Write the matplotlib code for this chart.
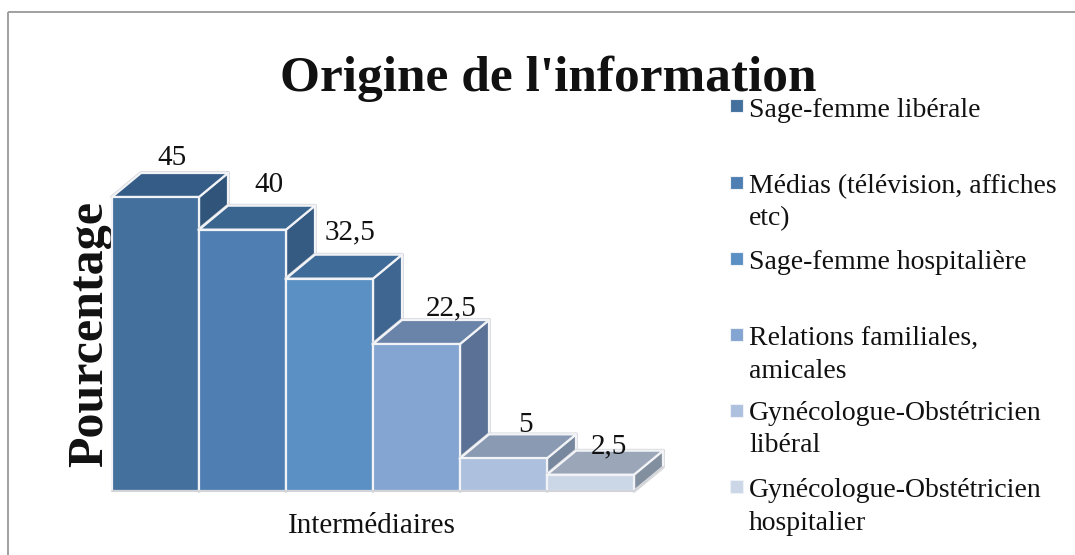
#!/usr/bin/env python3
# -*- coding: utf-8 -*-

"""Origine de l'information, pseudo 3D bars"""

import matplotlib
matplotlib.use("Agg")
import matplotlib.pyplot as plt
from matplotlib.patches import Polygon, Rectangle

W, H = 1075, 555

labels = ["Sage-femme libérale",
          "Médias (télévision, affiches\netc)",
          "Sage-femme hospitalière",
          "Relations familiales,\namicales",
          "Gynécologue-Obstétricien\nlibéral",
          "Gynécologue-Obstétricien\nhospitalier"]
values = [45, 40, 32.5, 22.5, 5, 2.5]
value_labels = ["45", "40", "32,5", "22,5", "5", "2,5"]

front_colors = ["#43709d", "#4f7fb2", "#5a90c4", "#84a4d1", "#adc0de", "#cbd6e7"]
top_colors = ["#355c86", "#3a658f", "#3f6b99", "#6a83a8", "#8a9ab3", "#9ba6b8"]
side_colors = ["#30547a", "#365b82", "#3f6691", "#5b7296", "#76879e", "#828f9f"]

# pixel layout of the labels
label_shift_x = [2, 12, 6, 20, 8, 4]
label_shift_y = [0, -6, -7, 3, 6, 11]
legend_baseline = [117, 193, 269, 345, 420, 497]
legend_square_y = [99, 176, 252, 328, 404, 480]
LINE_STEP = 32.5

EDGE = "#f1f3f6"
OUTLINE = "#d2d4d8"
TEXT = "#111111"
SERIF = "Liberation Serif"

fig = plt.figure(figsize=(W / 100, H / 100), dpi=100, facecolor="white")

# frame around the chart, runs off at the bottom
page = fig.add_axes([0, 0, 1, 1])
page.set_xlim(0, W)
page.set_ylim(H, 0)
page.axis("off")
page.add_patch(Rectangle((7.5, 12), W + 20, H + 20, fill=False, ec="#a0a0a0", lw=1.4))

# axes span exactly the fronts of the bars
left, right, bottom, top = 112, 634, 491, 197
ax = fig.add_axes([left / W, 1 - bottom / H, (right - left) / W, (bottom - top) / H])
ax.set_xlim(0, len(values))
ax.set_ylim(0, max(values))
ax.axis("off")

dx, dy = 29 / 87, 24 * max(values) / (bottom - top)
px_x, px_y = len(values) / (right - left), max(values) / (bottom - top)

for i, v in enumerate(values):
    front = [(i, 0), (i + 1, 0), (i + 1, v), (i, v)]
    side = [(i + 1, 0), (i + 1 + dx, dy), (i + 1 + dx, v + dy), (i + 1, v)]
    roof = [(i, v), (i + 1, v), (i + 1 + dx, v + dy), (i + dx, v + dy)]
    # grey silhouette first, white inner edges on top of it
    for pts in (side, roof):
        ax.add_patch(Polygon(pts, closed=True, fc="none", ec=OUTLINE, lw=2.6,
                             joinstyle="round", clip_on=False))
    for pts, col in [(side, side_colors[i]), (roof, top_colors[i]), (front, front_colors[i])]:
        ax.add_patch(Polygon(pts, closed=True, fc=col, ec=EDGE, lw=1.6,
                             joinstyle="round", clip_on=False))

ax.plot([0, len(values), len(values) + dx], [0, 0, dy], color=OUTLINE, lw=1.4,
        clip_on=False, solid_capstyle="round")

for i, v in enumerate(values):
    ax.text(i + 0.5 + dx / 2 + label_shift_x[i] * px_x,
            v + dy + 0.3 - label_shift_y[i] * px_y,
            value_labels[i], ha="center", va="bottom",
            fontsize=21, family=SERIF, color=TEXT, clip_on=False)

page.text(548, 91, "Origine de l'information", ha="center", va="baseline",
          fontsize=37, family=SERIF, weight="bold", color=TEXT)
page.text(102, 334, "Pourcentage", rotation=90, ha="center", va="baseline",
          rotation_mode="anchor", fontsize=36, family=SERIF, weight="bold", color=TEXT)
page.text(372, 533, "Intermédiaires", ha="center", va="baseline",
          fontsize=21, family=SERIF, color=TEXT)

for i, lab in enumerate(labels):
    page.add_patch(Rectangle((730, legend_square_y[i]), 12.5, 13, fc=front_colors[i],
                             ec="#eef1f5", lw=0.8))
    for j, line in enumerate(lab.split("\n")):
        page.text(749, legend_baseline[i] + j * LINE_STEP, line, ha="left", va="baseline",
                  fontsize=20, family=SERIF, color=TEXT)

fig.savefig("out.png", dpi=100)
plt.close(fig)
